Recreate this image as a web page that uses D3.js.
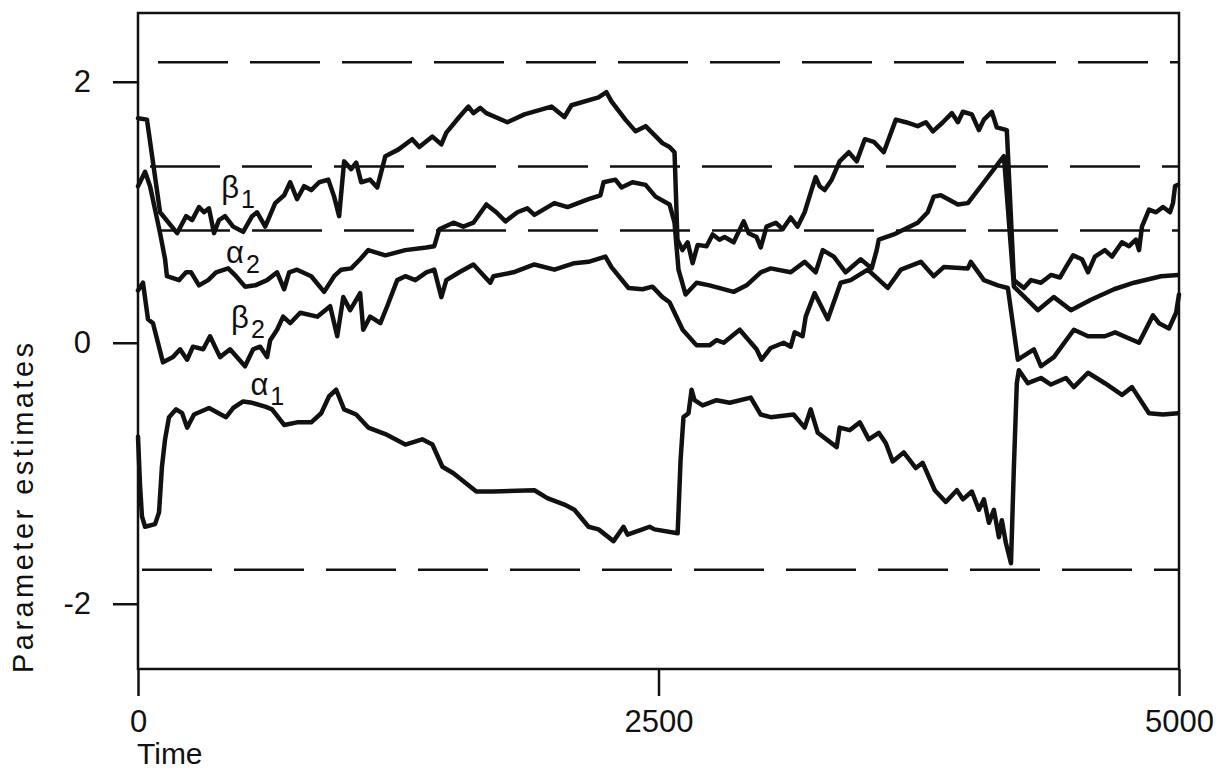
<!DOCTYPE html>
<html>
<head>
<meta charset="utf-8">
<script src="https://cdn.jsdelivr.net/npm/d3@7"></script>
<style>
  body { margin: 0; background: #fff; }
  text { font-family: "Liberation Sans", Arial, sans-serif; fill: #111; }
</style>
</head>
<body>
<script>
// parameter estimates vs time as [time, value]
var beta1 = [[0,1.72],[43,1.71],[106,1.00],[188,0.84],[231,0.97],[260,0.94],[293,1.04],[317,1.00],[341,1.03],[365,0.84],
  [389,0.94],[418,0.97],[457,0.89],[505,0.85],[548,0.97],[572,1.00],[611,0.89],[659,1.07],[702,1.13],[731,1.23],
  [764,1.10],[798,1.20],[832,1.17],[870,1.23],[914,1.25],[942,1.12],[966,0.97],[990,1.39],[1024,1.33],[1048,1.38],
  [1072,1.23],[1115,1.25],[1149,1.19],[1188,1.43],[1250,1.48],[1317,1.56],[1351,1.50],[1414,1.58],[1457,1.52],[1481,1.61],
  [1543,1.73],[1587,1.81],[1611,1.76],[1644,1.80],[1673,1.76],[1774,1.69],[1856,1.75],[1986,1.81],[2048,1.73],[2082,1.82],
  [2212,1.88],[2250,1.92],[2274,1.85],[2341,1.71],[2390,1.62],[2438,1.66],[2519,1.53],[2553,1.50],[2577,1.46],[2591,0.79],
  [2615,0.71],[2640,0.77],[2664,0.61],[2688,0.75],[2731,0.74],[2760,0.83],[2793,0.79],[2817,0.81],[2861,0.77],[2909,0.93],
  [2933,0.84],[2971,0.81],[2991,0.73],[3019,0.89],[3063,0.92],[3096,0.87],[3135,0.96],[3168,0.89],[3202,1.00],[3231,1.15],
  [3255,1.27],[3274,1.20],[3298,1.17],[3332,1.25],[3370,1.39],[3414,1.46],[3452,1.39],[3491,1.56],[3534,1.54],[3582,1.46],
  [3640,1.71],[3688,1.69],[3745,1.66],[3784,1.69],[3818,1.62],[3866,1.69],[3909,1.76],[3938,1.69],[3962,1.77],[4005,1.75],
  [4039,1.63],[4063,1.71],[4101,1.77],[4125,1.65],[4173,1.63],[4207,0.48],[4255,0.42],[4289,0.48],[4337,0.46],[4385,0.52],
  [4428,0.50],[4457,0.58],[4491,0.67],[4534,0.64],[4563,0.54],[4596,0.66],[4644,0.71],[4678,0.66],[4726,0.77],[4760,0.74],
  [4793,0.79],[4808,0.71],[4822,0.89],[4856,1.02],[4890,1.00],[4923,1.04],[4957,1.00],[4971,1.07],[4981,1.20],[4995,1.21]];

var alpha2 = [[0,1.20],[34,1.31],[58,1.20],[106,0.84],[130,0.64],[139,0.51],[197,0.48],[231,0.54],[255,0.54],[293,0.44],
  [337,0.48],[375,0.54],[433,0.57],[471,0.51],[514,0.43],[563,0.44],[620,0.48],[668,0.54],[702,0.41],[726,0.54],
  [764,0.56],[832,0.51],[894,0.39],[942,0.51],[976,0.56],[1024,0.57],[1067,0.64],[1106,0.71],[1188,0.67],[1284,0.71],
  [1385,0.73],[1423,0.74],[1447,0.87],[1515,0.92],[1563,0.89],[1611,0.92],[1673,1.06],[1721,1.00],[1765,0.93],[1822,1.00],
  [1870,1.03],[1904,0.98],[2000,1.07],[2063,1.04],[2164,1.10],[2221,1.13],[2236,1.23],[2293,1.25],[2322,1.19],[2375,1.23],
  [2438,1.21],[2486,1.12],[2553,1.06],[2577,0.92],[2596,0.56],[2630,0.37],[2683,0.46],[2745,0.44],[2861,0.39],[2923,0.44],
  [2991,0.54],[3039,0.57],[3135,0.54],[3202,0.62],[3255,0.54],[3289,0.71],[3342,0.66],[3399,0.54],[3471,0.64],[3524,0.57],
  [3548,0.71],[3558,0.79],[3630,0.83],[3745,0.92],[3793,1.00],[3822,1.12],[3856,1.13],[3938,1.06],[3986,1.07],[4063,1.23],
  [4144,1.40],[4159,1.43],[4207,0.43],[4322,0.25],[4399,0.35],[4481,0.25],[4577,0.33],[4688,0.41],[4784,0.46],[4914,0.51],
  [4995,0.52]];

var beta2 = [[0,0.40],[24,0.46],[48,0.18],[72,0.15],[120,-0.15],[168,-0.11],[202,-0.05],[236,-0.13],[264,-0.03],[313,-0.05],
  [346,0.05],[394,-0.11],[442,-0.05],[514,-0.18],[553,-0.05],[587,-0.03],[620,-0.11],[635,0.02],[668,0.10],[697,0.20],
  [731,0.15],[779,0.23],[861,0.20],[923,0.28],[957,0.05],[986,0.35],[1019,0.25],[1067,0.38],[1082,0.10],[1115,0.20],
  [1164,0.15],[1197,0.28],[1245,0.48],[1284,0.51],[1332,0.48],[1385,0.54],[1423,0.56],[1457,0.35],[1481,0.48],[1543,0.54],
  [1611,0.60],[1692,0.46],[1707,0.51],[1803,0.54],[1904,0.60],[2000,0.56],[2096,0.61],[2164,0.62],[2245,0.66],[2274,0.58],
  [2356,0.42],[2423,0.41],[2471,0.43],[2519,0.35],[2553,0.31],[2616,0.10],[2683,-0.02],[2745,-0.02],[2779,0.02],[2813,0.00],
  [2890,0.10],[2971,-0.05],[2995,-0.13],[3039,-0.04],[3101,0.00],[3135,-0.03],[3154,0.08],[3192,0.05],[3207,0.20],[3250,0.38],
  [3313,0.18],[3375,0.46],[3423,0.48],[3505,0.56],[3601,0.42],[3664,0.56],[3760,0.62],[3822,0.51],[3870,0.58],[3986,0.57],
  [4000,0.62],[4063,0.48],[4130,0.44],[4178,0.42],[4226,-0.13],[4303,-0.05],[4337,-0.18],[4399,-0.11],[4495,0.10],[4563,0.05],
  [4644,0.05],[4693,0.08],[4808,0.00],[4875,0.21],[4904,0.15],[4952,0.11],[4986,0.23],[5000,0.37]];

var alpha1 = [[0,-0.72],[10,-1.10],[19,-1.33],[34,-1.41],[82,-1.39],[101,-1.30],[115,-0.95],[130,-0.74],[149,-0.57],[183,-0.51],
  [212,-0.54],[236,-0.65],[269,-0.55],[341,-0.50],[423,-0.57],[457,-0.50],[505,-0.45],[548,-0.46],[611,-0.49],[644,-0.51],
  [702,-0.63],[764,-0.61],[832,-0.61],[880,-0.54],[918,-0.41],[952,-0.36],[990,-0.51],[1048,-0.55],[1106,-0.65],[1188,-0.70],
  [1284,-0.78],[1365,-0.74],[1414,-0.78],[1462,-0.95],[1515,-1.00],[1625,-1.14],[1707,-1.14],[1904,-1.13],[1966,-1.19],[2048,-1.24],
  [2096,-1.28],[2164,-1.41],[2212,-1.43],[2284,-1.52],[2332,-1.41],[2351,-1.47],[2423,-1.43],[2457,-1.41],[2481,-1.43],[2592,-1.46],
  [2606,-0.90],[2620,-0.57],[2644,-0.54],[2659,-0.36],[2673,-0.44],[2712,-0.48],[2779,-0.44],[2842,-0.46],[2943,-0.42],[2991,-0.55],
  [3039,-0.57],[3149,-0.55],[3202,-0.65],[3231,-0.51],[3265,-0.69],[3356,-0.80],[3370,-0.65],[3418,-0.67],[3467,-0.61],[3510,-0.74],
  [3558,-0.69],[3592,-0.77],[3625,-0.91],[3678,-0.84],[3736,-0.96],[3769,-0.92],[3827,-1.13],[3880,-1.22],[3933,-1.13],[3962,-1.20],
  [4005,-1.14],[4039,-1.28],[4063,-1.20],[4087,-1.38],[4111,-1.28],[4135,-1.49],[4149,-1.36],[4168,-1.53],[4193,-1.69],[4207,-0.95],
  [4221,-0.31],[4231,-0.21],[4274,-0.31],[4337,-0.27],[4385,-0.32],[4457,-0.27],[4495,-0.34],[4563,-0.23],[4644,-0.31],[4726,-0.40],
  [4774,-0.34],[4856,-0.54],[4923,-0.55],[4995,-0.54]];

var dashedLevels = [2.15, 1.35, 0.86, -1.74];
var xTicks = [0, 2500, 5000];
var yTicks = [-2, 0, 2];
// series labels: [greek letter, subscript, time, value]
var seriesLabels = [["β","1",400,1.11],["α","2",423,0.61],["β","2",447,0.11],["α","1",540,-0.40]];

var width = 1223, height = 776;

var svg = d3.select("body")
  .append("svg")
    .attr("width", width)
    .attr("height", height);

var x = d3.scaleLinear().domain([0, 5000]).range([138, 1179]);
var y = d3.scaleLinear().domain([-2.5, 2.527]).range([669, 13]);

// frame
svg.append("rect")
  .attr("x", x(0)).attr("y", y(2.527))
  .attr("width", x(5000) - x(0)).attr("height", y(-2.5) - y(2.527))
  .style("fill", "none").style("stroke", "#111").style("stroke-width", 2.5)

// dashed reference lines
svg.append("g")
  .selectAll("line")
  .data(dashedLevels)
  .enter()
  .append("line")
    .attr("x1", x(0)).attr("x2", x(5000))
    .attr("y1", function(d){ return y(d) })
    .attr("y2", function(d){ return y(d) })
    .style("stroke", "#111")
    .style("stroke-width", 2.5)
    .style("stroke-dasharray", "70,22")
    .style("stroke-dashoffset", function(d,i){ return [-20,-12,-22,-4][i] })

// axes
var xAxis = svg.append("g")
  .attr("transform", "translate(0," + y(-2.5) + ")")
  .call(d3.axisBottom(x).tickValues(xTicks).tickSize(27).tickPadding(14).tickFormat(d3.format("d")))
var yAxis = svg.append("g")
  .attr("transform", "translate(" + x(0) + ",0)")
  .call(d3.axisLeft(y).tickValues(yTicks).tickSize(25).tickPadding(22)
    .tickFormat(function(d){ return d < 0 ? "-" + Math.abs(d) : d }))

;[xAxis, yAxis].forEach(function(a){
  a.select(".domain").remove()
  a.selectAll(".tick line").style("stroke", "#111").style("stroke-width", 2.5)
  a.selectAll(".tick text")
    .style("font-family", "'Liberation Sans', Arial, sans-serif")
    .style("font-size", "31px").style("fill", "#111")
})

// axis titles
svg.append("text")
  .attr("x", 137).attr("y", 764)
  .style("font-size", "30px")
  .text("Time")

svg.append("text")
  .attr("transform", "translate(33,673) rotate(-90)")
  .attr("textLength", 330)
  .attr("lengthAdjust", "spacing")
  .style("font-size", "29px")
  .text("Parameter estimates")

// series
var line = d3.line()
  .x(function(d){ return x(d[0]) })
  .y(function(d){ return y(d[1]) })

svg.append("g")
  .selectAll("path")
  .data([beta1, alpha2, beta2, alpha1])
  .enter()
  .append("path")
    .attr("d", line)
    .style("fill", "none")
    .style("stroke", "#111")
    .style("stroke-width", 4.5)
    .style("stroke-linejoin", "round")
    .style("stroke-linecap", "round")

// series labels
var lab = svg.append("g")
  .selectAll("text")
  .data(seriesLabels)
  .enter()
  .append("text")
    .attr("x", function(d){ return x(d[2]) })
    .attr("y", function(d){ return y(d[3]) })
    .style("font-size", "31px")
lab.append("tspan").text(function(d){ return d[0] })
lab.append("tspan")
  .attr("dy", 10)
  .attr("dx", 2)
  .style("font-size", "25px")
  .text(function(d){ return d[1] })
</script>
</body>
</html>
